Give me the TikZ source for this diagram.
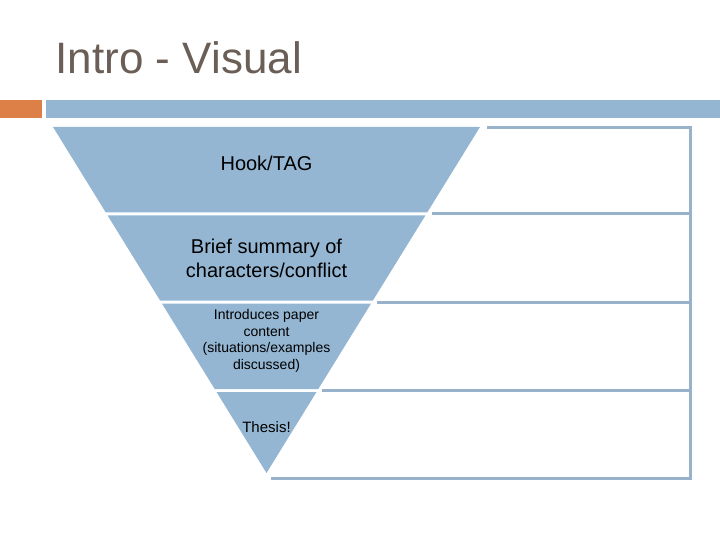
\documentclass[tikz,border=0pt]{standalone}
\usepackage{fontspec}
\setmainfont{Liberation Sans}
\usepackage{xcolor}
\definecolor{introblue}{HTML}{94B6D2}
\definecolor{introorange}{HTML}{DD8047}
\definecolor{introtitle}{HTML}{6B5E57}
\definecolor{frameblue}{HTML}{98B2CB}
\usepackage{tikz}
\tikzset{
  layer/.style ={fill=introblue, draw=none},
  ltext/.style ={text=black, align=center, inner sep=0pt, font=\fontsize{20}{24}\selectfont},
  stext/.style ={text=black, align=center, inner sep=0pt, font=\fontsize{14}{16.7}\selectfont},
  tstext/.style={text=black, align=center, inner sep=0pt, font=\fontsize{15}{18}\selectfont},
  frameline/.style={draw=frameblue, line width=3pt},
}
\begin{document}
\begin{tikzpicture}[x=1pt, y=-1pt]
  \useasboundingbox (0,0) rectangle (720,540);
  % titel + balken
  \node[font=\fontsize{44}{48}\selectfont, text=introtitle, anchor=base west, inner sep=0pt] (title) at (55.5,74) {Intro - Visual};
  \fill[introorange] (0,100) rectangle (42,118);
  \fill[introblue]   (46,100) rectangle (720,118);
  % trichter
  \fill[layer] (53,127)    -- (480,127)    -- (427.2,212.5) -- (105.8,212.5) -- cycle;
  \fill[layer] (107.6,215.5) -- (425.4,215.5) -- (372.9,300.5) -- (160.1,300.5) -- cycle;
  \fill[layer] (161.9,303.5) -- (371.1,303.5) -- (318.3,389)   -- (214.7,389)   -- cycle;
  \fill[layer] (216.5,392) -- (316.5,392)   -- (266.5,473)   -- cycle;
  % texte
  \node[ltext] (hook)   at (266.5,163) {Hook/TAG};
  \node[ltext] (brief)  at (266.5,258) {Brief summary of\\characters/conflict};
  \node[stext] (intro)  at (266.5,341) {Introduces paper\\content\\(situations/examples\\discussed)};
  \node[tstext] (thesis) at (266.5,427) {Thesis!};
  % rahmen rechts
  \draw[frameline] (487,127.5) -- (690,127.5) -- (690,478) -- (271,478);
  \foreach \yy/\xx in {214/432, 302/377, 390.5/322}
    \draw[frameline] (\xx,\yy) -- (690,\yy);
\end{tikzpicture}
\end{document}
